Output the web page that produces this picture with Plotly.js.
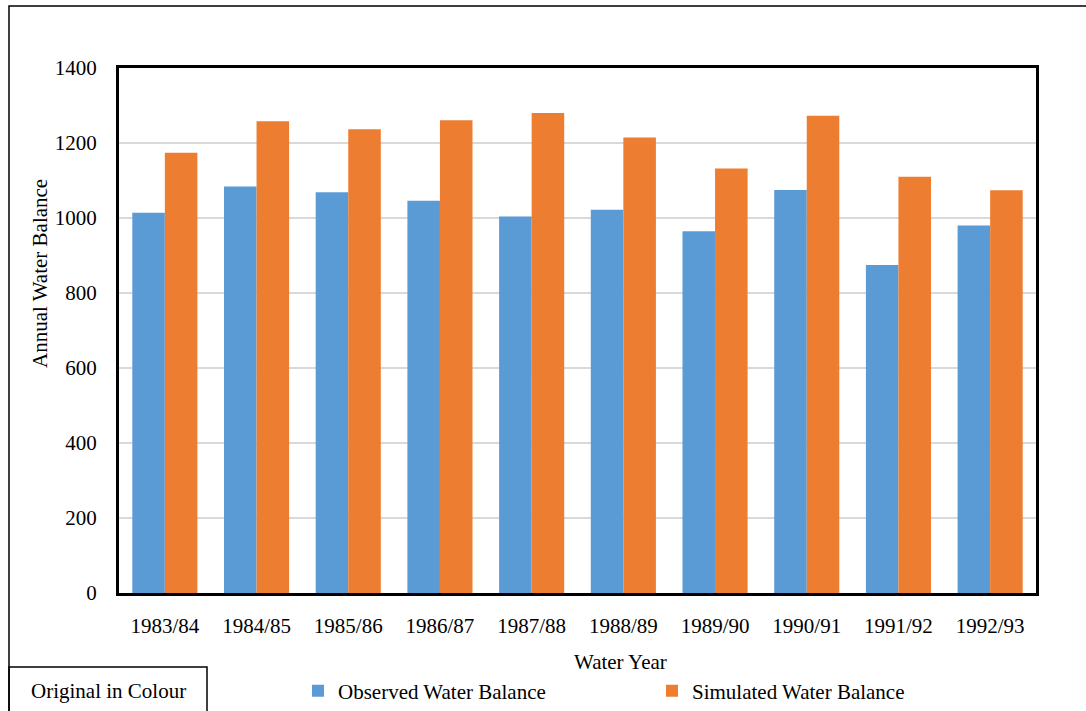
<!DOCTYPE html>
<html>
<head>
<meta charset="utf-8">
<script src="https://cdn.plot.ly/plotly-3.0.1.min.js"></script>
<style>
html,body{margin:0;padding:0;background:#fff;}
#chart{width:1086px;height:711px;}
</style>
</head>
<body>
<div id="chart"></div>
<script>
var waterYears = ["1983/84","1984/85","1985/86","1986/87","1987/88","1988/89","1989/90","1990/91","1991/92","1992/93"];
var observed = [1014, 1084, 1069, 1046, 1004, 1022, 965, 1075, 875, 980];
var simulated = [1174, 1258, 1237, 1261, 1280, 1215, 1132, 1273, 1110, 1074];
var yTicks = [0, 200, 400, 600, 800, 1000, 1200, 1400];

var FONT = "Liberation Serif, Times New Roman, serif";
var L = 119, R = 50, T = 68, B = 118, W = 1086, H = 711;
var pw = W - L - R, ph = H - T - B;
function px2x(p){ return (p - L) / pw; }
function py2y(p){ return (H - B - p) / ph; }

var traces = [
  {type:"bar", name:"Observed Water Balance", x:waterYears, y:observed,
   marker:{color:"#5B9BD5"}},
  {type:"bar", name:"Simulated Water Balance", x:waterYears, y:simulated,
   marker:{color:"#ED7D31"}}
];

var layout = {
  width:W, height:H,
  margin:{l:L, r:R, t:T, b:B, pad:0, autoexpand:false},
  paper_bgcolor:"#fff", plot_bgcolor:"#fff",
  font:{family:FONT, size:21, color:"#000"},
  barmode:"group", bargap:0.29, bargroupgap:0,
  xaxis:{
    showline:true, linecolor:"#000", linewidth:3, mirror:true,
    ticks:"", showgrid:false, ticklabelstandoff:12,
    tickfont:{family:FONT, size:21, color:"#000"}
  },
  yaxis:{
    range:[0,1400], tickvals:yTicks, showline:true, linecolor:"#000", linewidth:3, mirror:true,
    ticks:"", showgrid:true, gridcolor:"#D9D9D9", gridwidth:1.5, zeroline:false,
    ticklabelstandoff:15,
    tickfont:{family:FONT, size:21, color:"#000"}
  },
  showlegend:true,
  legend:{orientation:"h", x:px2x(298), xanchor:"left", y:py2y(691), yanchor:"middle",
    entrywidth:309, entrywidthmode:"pixels", font:{family:FONT, size:21, color:"#000"},
    bgcolor:"rgba(0,0,0,0)", traceorder:"normal"},
  annotations:[
    {text:"Annual Water Balance", xref:"paper", yref:"paper", x:px2x(40), y:py2y(274),
     textangle:-90, showarrow:false, xanchor:"center", yanchor:"middle",
     font:{family:FONT, size:21, color:"#000"}},
    {text:"Water Year", xref:"paper", yref:"paper", x:px2x(620), y:py2y(662),
     showarrow:false, xanchor:"center", yanchor:"middle",
     font:{family:FONT, size:21, color:"#000"}},
    {text:"Original in Colour", xref:"paper", yref:"paper", x:px2x(108), y:py2y(691),
     showarrow:false, xanchor:"center", yanchor:"middle",
     font:{family:FONT, size:21, color:"#000"}}
  ],
  shapes:[
    {type:"path", xref:"paper", yref:"paper",
     path:"M "+px2x(9)+" "+py2y(720)+" L "+px2x(9)+" "+py2y(6)+" L "+px2x(1090)+" "+py2y(6),
     line:{color:"#000", width:1.5}},
    {type:"rect", xref:"paper", yref:"paper", x0:px2x(9), x1:px2x(207), y0:py2y(667), y1:py2y(720),
     line:{color:"#000", width:1.5}, fillcolor:"rgba(0,0,0,0)"}
  ]
};

Plotly.newPlot("chart", traces, layout, {displayModeBar:false, staticPlot:true});
</script>
</body>
</html>
